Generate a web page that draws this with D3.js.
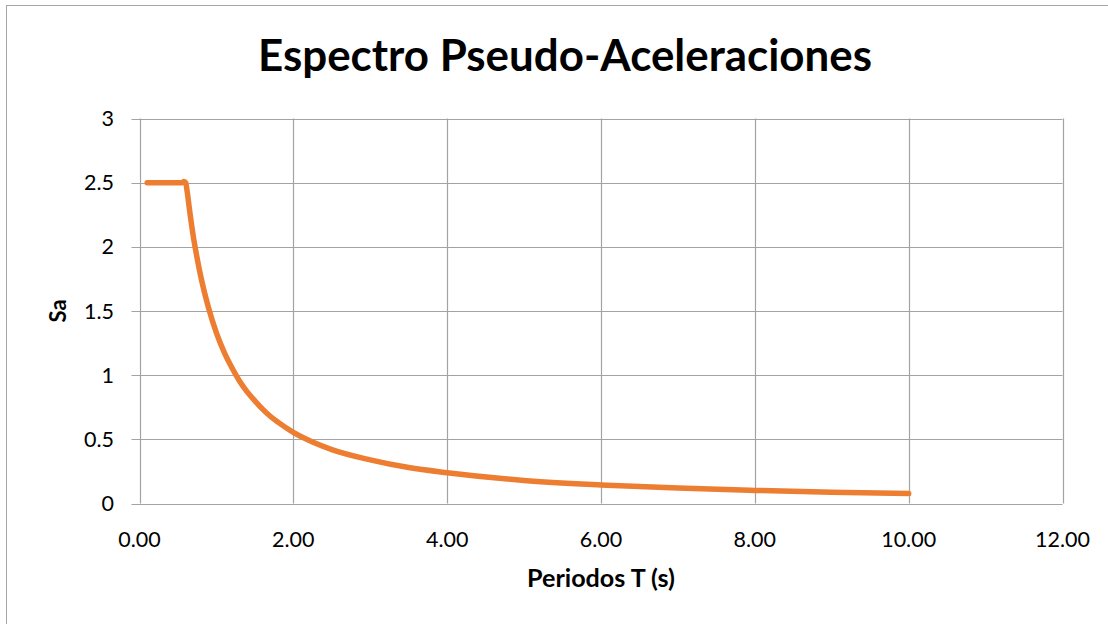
<!DOCTYPE html>
<html>
<head>
<meta charset="utf-8">
<script src="https://cdn.jsdelivr.net/npm/d3@7"></script>
<style>
  html, body { margin: 0; padding: 0; background: #fff; }
  svg { display: block; }
  text { font-family: Lato, "Open Sans", sans-serif; fill: #000; }
</style>
</head>
<body>
<svg id="chart" width="1108" height="624"></svg>
<script>
// ---- data ----
const periods = [0.1, 0.2, 0.3, 0.4, 0.5, 0.55, 0.58, 0.6, 0.62, 0.65, 0.7, 0.75, 0.8, 0.9, 1.0, 1.1, 1.2, 1.3, 1.4, 1.5, 1.6, 1.7, 1.8, 2.0, 2.25, 2.5, 3.0, 3.5, 4.0, 5.0, 6.0, 7.0, 8.0, 9.0, 10.0];
const saValues = [2.5, 2.5, 2.5, 2.5, 2.5, 2.5, 2.51, 2.5, 2.43, 2.29, 2.08, 1.91, 1.76, 1.52, 1.33, 1.18, 1.06, 0.955, 0.87, 0.8, 0.735, 0.68, 0.634, 0.554, 0.479, 0.42, 0.34, 0.28, 0.24, 0.18, 0.145, 0.12, 0.102, 0.088, 0.077];
const xTicks = [0, 2, 4, 6, 8, 10, 12];
const yTicks = [0, 0.5, 1, 1.5, 2, 2.5, 3];
const titleText = "Espectro Pseudo-Aceleraciones";
const xLabel = "Periodos T (s)";
const yLabel = "Sa";

// ---- layout ----
const svg = d3.select("#chart");
const plot = { left: 139.5, right: 1062.5, top: 118.5, bottom: 503.5 };
const gridColor = "#a3a3a3";

svg.append("rect")
  .attr("x", 6.5).attr("y", 5.5)
  .attr("width", 1200).attr("height", 700)
  .attr("fill", "#fff").attr("stroke", "#a6a6a6").attr("stroke-width", 1);

const x = d3.scaleLinear().domain([0, 12]).range([plot.left, plot.right]);
const y = d3.scaleLinear().domain([0, 3]).range([plot.bottom, plot.top]);

// gridlines
const g = svg.append("g");
g.selectAll("line.hg").data(yTicks).enter().append("line")
  .attr("x1", plot.left - 8).attr("x2", plot.right)
  .attr("y1", d => Math.round(y(d)) + 0.5).attr("y2", d => Math.round(y(d)) + 0.5)
  .attr("stroke", gridColor).attr("stroke-width", 1.2);
g.selectAll("line.vg").data(xTicks).enter().append("line")
  .attr("y1", plot.top).attr("y2", plot.bottom)
  .attr("x1", d => Math.round(x(d)) + 0.5).attr("x2", d => Math.round(x(d)) + 0.5)
  .attr("stroke", gridColor).attr("stroke-width", 1.2);

// tick labels
g.selectAll("text.yt").data(yTicks).enter().append("text")
  .attr("x", 114).attr("y", d => y(d) + 7.5)
  .attr("text-anchor", "end").attr("font-size", 21.5)
  .text(d => d3.format("")(d));
g.selectAll("text.xt").data(xTicks).enter().append("text")
  .attr("x", d => x(d)).attr("y", 547)
  .attr("text-anchor", "middle").attr("font-size", 21.5)
  .text(d => d3.format(".2f")(d));

// series line
const line = d3.line()
  .x((d, i) => x(periods[i]))
  .y(d => y(d))
  .curve(d3.curveMonotoneX);
svg.append("path")
  .attr("d", line(saValues))
  .attr("fill", "none")
  .attr("stroke", "#ED7D31")
  .attr("stroke-width", 5.5)
  .attr("stroke-linecap", "round")
  .attr("stroke-linejoin", "round");

// helper: fit text to a target width
function fit(sel, target) {
  const w = sel.node().getComputedTextLength();
  const fs = parseFloat(sel.attr("font-size"));
  sel.attr("font-size", fs * target / w);
}

const title = svg.append("text")
  .attr("x", 565).attr("y", 71)
  .attr("text-anchor", "middle").attr("font-weight", "bold")
  .attr("font-size", 40).text(titleText);
fit(title, 614);

const xl = svg.append("text")
  .attr("x", 601).attr("y", 587)
  .attr("text-anchor", "middle").attr("font-weight", "bold")
  .attr("font-size", 19).text(xLabel);
fit(xl, 148);

const yl = svg.append("text")
  .attr("transform", "translate(66,311) rotate(-90)")
  .attr("text-anchor", "middle").attr("font-weight", "bold")
  .attr("font-size", 19).text(yLabel);
fit(yl, 23);
</script>
</body>
</html>
